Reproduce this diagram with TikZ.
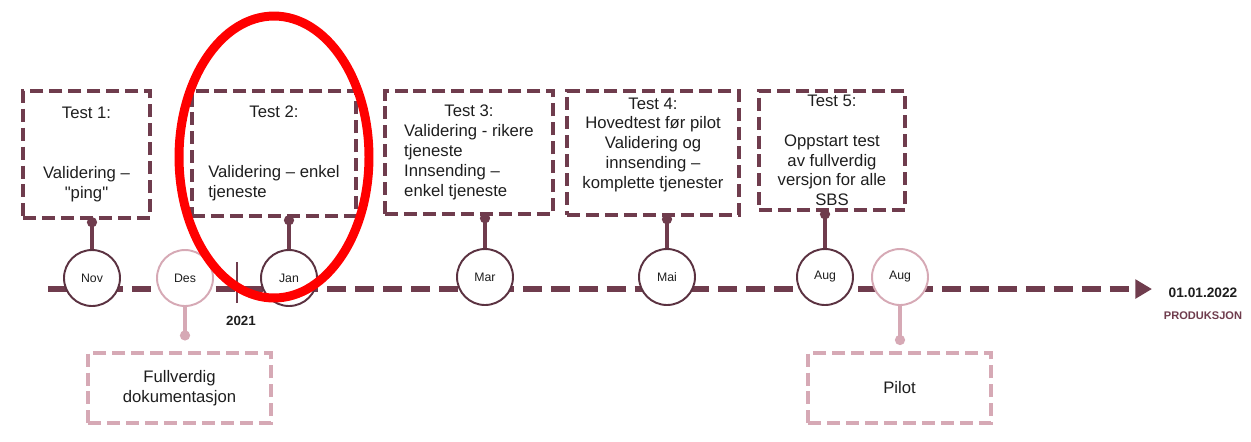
\documentclass[tikz,border=0pt]{standalone}
\usepackage{fontspec}
\setmainfont[Ligatures=TeXOff]{Liberation Sans}
\usetikzlibrary{arrows.meta}
\definecolor{plum}{HTML}{6F3C4D}
\definecolor{plumline}{HTML}{5B3241}
\definecolor{rose}{HTML}{D6A9B5}
\definecolor{ink}{HTML}{1E1E1E}
\definecolor{red}{HTML}{FF0000}

\tikzset{
  timeline/.style={plum, line width=3.4pt, dash pattern=on 10.8pt off 5.1pt,
    -{Triangle[length=9.5pt,width=10.5pt]}},
  month/.style={circle, draw=plumline, line width=1.1pt, fill=white, inner sep=0pt,
    minimum size=1.12cm, text=ink, font=\fontsize{7}{8}\selectfont},
  monthpink/.style={month, draw=rose},
  testbox/.style={draw=plum, line width=2.3pt, dash pattern=on 7.4pt off 3.4pt,
    inner sep=0pt, align=center, text=ink, font=\fontsize{9.5}{11.3}\selectfont},
  docbox/.style={testbox, draw=rose},
  stem/.style={plum, line width=1.9pt, {Circle[length=5.7pt]}-, shorten <=-1.6pt},
  stempink/.style={rose, line width=1.9pt, -{Circle[length=5.7pt]}},
}

\begin{document}
\begin{tikzpicture}[x=0.02cm, y=-0.02cm]
  \useasboundingbox (0,0) rectangle (1251,441);

  % Timeline
  \coordinate (start) at (48,289);
  \coordinate (end) at (1152,289);
  \draw[timeline] (start) -- (end);
  \coordinate (ytop) at (237,262);
  \coordinate (ybot) at (237,303);
  \draw[plum, line width=1.7pt] (ytop) -- (ybot);
  \node[font=\bfseries\fontsize{7.6}{9}\selectfont, text=ink] (year) at (241,321) {2021};
  \node[font=\bfseries\fontsize{7.8}{9}\selectfont, text=ink] (date) at (1203,293) {01.01.2022};
  \node[font=\bfseries\fontsize{6.3}{8}\selectfont, text=plum] (prod) at (1203,316) {PRODUKSJON};

  % Define nodes
  \node[month]     (nov)  at (92,278)  {Nov};
  \node[monthpink] (des)  at (185,278) {Des};
  \node[month]     (jan)  at (289,278) {Jan};
  \node[month]     (mar)  at (485,277) {Mar};
  \node[month]     (mai)  at (667,277) {Mai};
  \node[month]     (aug)  at (825,277) {Aug};
  \node[monthpink] (augp) at (900,277) {Aug};

  \node[testbox, minimum width=2.54cm, minimum height=2.54cm] (t1) at (86.5,154.5)
    {Test 1:\\[22.6pt]Validering –\\"ping"};
  \node[testbox, minimum width=3.28cm, minimum height=2.5cm] (t2) at (274,153.5)
    {\begin{tabular}{@{}l@{}}\multicolumn{1}{@{}c@{}}{Test 2:}\\[22.6pt]
     Validering – enkel\\tjeneste\end{tabular}};
  \node[testbox, minimum width=3.36cm, minimum height=2.46cm] (t3) at (469,152.5)
    {\begin{tabular}{@{}l@{}}\multicolumn{1}{@{}c@{}}{Test 3:}\\
     Validering - rikere\\tjeneste\\Innsending –\\enkel tjeneste\end{tabular}};
  \node[testbox, minimum width=3.44cm, minimum height=2.48cm] (t4) at (653,153)
    {Test 4:\\Hovedtest før pilot\\Validering og\\innsending –\\komplette tjenester\\ \mbox{}};
  \node[testbox, minimum width=2.92cm, minimum height=2.38cm] (t5) at (832,150.5)
    {Test 5:\\[11.3pt]Oppstart test\\av fullverdig\\versjon for alle\\SBS};
  \node[docbox, minimum width=3.66cm, minimum height=1.4cm] (doc) at (179.5,388)
    {Fullverdig\\dokumentasjon};
  \node[docbox, minimum width=3.66cm, minimum height=1.4cm] (pilot) at (899.5,388)
    {Pilot};

  % Stems
  \draw[stem] (nov |- t1.south) -- (nov.north);
  \draw[stem] (jan |- t2.south) -- (jan.north);
  \draw[stem] (mar |- t3.south) -- (mar.north);
  \draw[stem] (mai |- t4.south) -- (mai.north);
  \draw[stem] (aug |- t5.south) -- (aug.north);
  \draw[stempink, shorten >=6pt] (des.south) -- (des |- doc.north);
  \draw[stempink, shorten >=3.4pt] (augp.south) -- (augp |- pilot.north);

  % Highlight
  \draw[red, line width=5.1pt] (274,157) ellipse [x radius=1.9cm, y radius=2.82cm];
\end{tikzpicture}
\end{document}
